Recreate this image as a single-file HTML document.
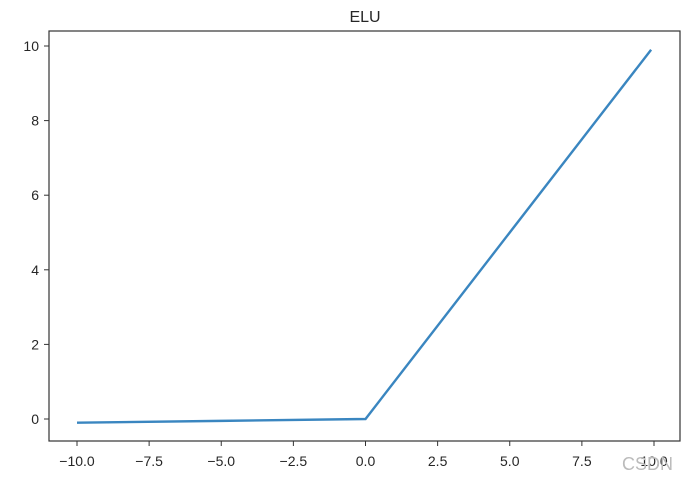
<!DOCTYPE html>
<html><head><meta charset="utf-8"><style>
body{margin:0;background:#fff;}
svg text{font-family:"Liberation Sans","DejaVu Sans",sans-serif;fill:#262626;}
</style></head><body>
<svg id="chart" width="688" height="479">
<text x="365" y="22" font-size="16" text-anchor="middle">ELU</text>
<g id="axes"></g>
<rect x="49" y="31" width="631" height="410" fill="none" stroke="#333" stroke-width="1.2"/>
<text x="622" y="470" font-size="18" fill="#bbb" style="fill:#bbb">CSDN</text>
</svg>
<script>
const xVals=[-10,-5,0,9.9];
const yVals=[-0.1,-0.05,0,9.9];
const xTicks=[-10,-7.5,-5,-2.5,0,2.5,5,7.5,10];
const xTickLabels=["\u221210.0","\u22127.5","\u22125.0","\u22122.5","0.0","2.5","5.0","7.5","10.0"];
const yTicks=[0,2,4,6,8,10];
const yTickLabels=["0","2","4","6","8","10"];
const sx=v=>365.5+v*28.85;
const sy=v=>419-v*37.3;
const ns="http://www.w3.org/2000/svg";
const g=document.getElementById('axes');
function mk(t,a){const e=document.createElementNS(ns,t);for(const k in a)e.setAttribute(k,a[k]);g.appendChild(e);return e;}
xTicks.forEach((v,i)=>{
  const l=mk('line',{x1:sx(v),x2:sx(v),y1:441,y2:446,stroke:'#333'});
  
  
  const t=mk('text',{x:sx(v),y:466,'font-size':14,'text-anchor':'middle'});
  t.textContent=xTickLabels[i];
  
  
});
yTicks.forEach((v,i)=>{
  const l=mk('line',{x1:44,x2:49,y1:sy(v),y2:sy(v),stroke:'#333'});
  
  
  const t=mk('text',{x:39,y:sy(v)+5,'font-size':14,'text-anchor':'end'});
  t.textContent=yTickLabels[i];
  
  
});
const p=mk('polyline',{points:xVals.map((x,i)=>sx(x)+','+sy(yVals[i])).join(' '),fill:'none',stroke:'#3a86c0','stroke-width':2.4});


</script>
</body></html>
